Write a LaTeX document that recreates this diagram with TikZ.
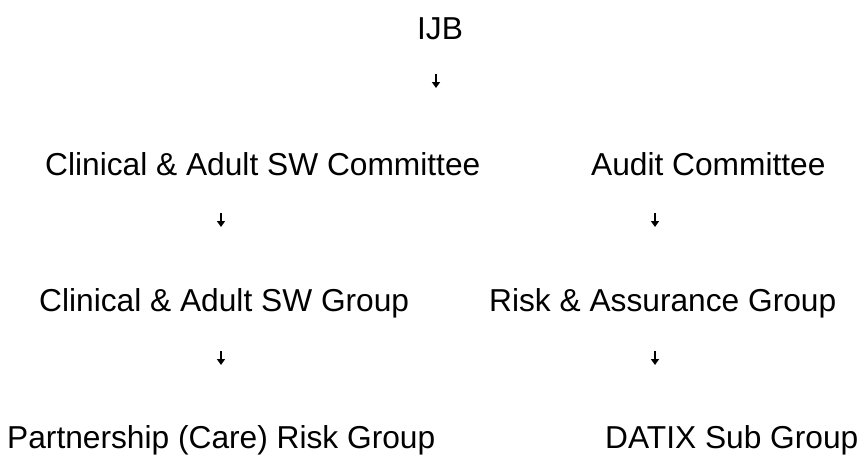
\documentclass[tikz,border=0pt]{standalone}
\usepackage{fontspec}
\setmainfont{Liberation Sans}
\usetikzlibrary{arrows.meta}
\tikzset{lbl/.style={anchor=base west, inner sep=0pt, font=\fontsize{31.7}{38}\selectfont},
% short down arrows between the rows
arr/.style={-{Triangle[width=8pt,length=6pt]}, line width=2pt}}

\begin{document}
\begin{tikzpicture}[x=1pt,y=-1pt]
        \useasboundingbox (0,0) rectangle (867,459);
        \node[lbl, anchor=base] (ijb) at (440,39) {IJB};
        \node[lbl] (cscom) at (45,175) {Clinical \& Adult SW Committee};
        \node[lbl] (audit) at (591,175) {Audit Committee};
        \node[lbl] (csgrp) at (39,311) {Clinical \& Adult SW Group};
        \node[lbl] (risk) at (489,311) {Risk \& Assurance Group};
        \node[lbl] (part) at (7,448) {Partnership (Care) Risk Group};
        \node[lbl] (datix) at (605,448) {DATIX Sub Group};
        \foreach \n/\x/\y in {a/436/74, b/221/213, c/655/213, d/221/351, e/655/351}{
          \coordinate (\n1) at (\x,\y);
          \coordinate (\n2) at (\x,\y+14);
          \draw[arr] (\n1) -- (\n2);
        }
      \end{tikzpicture}
\end{document}
